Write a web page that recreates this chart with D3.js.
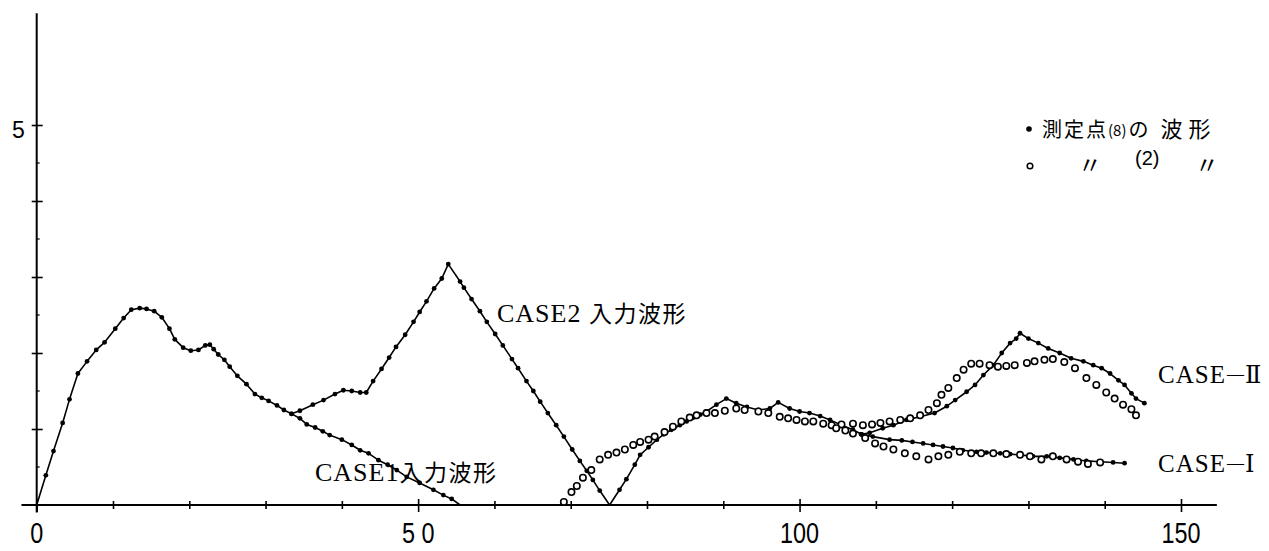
<!DOCTYPE html>
<html>
<head>
<meta charset="utf-8">
<script src="https://cdn.jsdelivr.net/npm/d3@7/dist/d3.min.js"></script>
<style>
  html, body { margin: 0; padding: 0; background: #fff; }
  svg { display: block; }
  .serif { font-family: "Liberation Serif", "DejaVu Serif", "Noto Sans CJK JP", serif; }
  .roman { font-family: "DejaVu Serif", "Noto Sans CJK JP", serif; }
  .cjk { font-family: "Noto Sans CJK JP", sans-serif; }
  .num { font-family: "Liberation Sans", "DejaVu Sans", sans-serif; }
</style>
</head>
<body>
<svg id="chart" width="1269" height="551"></svg>
<script>
// ---- data (time on x, amplitude on y) ----
// CASE1 input waveform, with the measured points at station (8)
const case1Input = [
  [0,0],[1.2,0.39],[2.2,0.71],[3.4,1.08],[4.3,1.39],[5.4,1.73],[6.6,1.89],[7.8,2.04],
  [8.9,2.14],[10.3,2.32],[11.4,2.46],[12.4,2.57],[13.5,2.59],[14.4,2.58],[15.4,2.55],
  [16.4,2.47],[17.4,2.32],[18.1,2.18],[19.2,2.07],[20.2,2.03],[21.2,2.04],[22.1,2.10],
  [22.7,2.11],[23.2,2.05],[23.8,1.98],[24.6,1.91],[25.3,1.82],[26.3,1.70],[27.5,1.59],
  [28.6,1.46],[29.5,1.41],[30.4,1.37],[31.5,1.31],[32.4,1.25],[33.4,1.20],[34.5,1.14],
  [35.4,1.06],[36.5,1.02],[37.5,0.97],[38.4,0.92],[40.0,0.86],[41.3,0.79],[42.4,0.72],
  [43.5,0.68],[44.8,0.59],[46.0,0.53],[47.2,0.46],[48.5,0.37],[50.2,0.29],[52.0,0.20],
  [53.3,0.13],[54.4,0.08],[55.5,0]
];
// CASE2 input waveform where it leaves the CASE1 curve
const case2Input = [
  [33.4,1.20],[34.5,1.24],[36.2,1.32],[37.6,1.38],[39.1,1.46],[40.2,1.51],[41.3,1.50],
  [42.4,1.48],[43.2,1.48],[44.1,1.63],[45.2,1.79],[46.2,1.94],[47.1,2.08],[48.3,2.24],
  [49.4,2.41],[50.2,2.54],[51.1,2.68],[52.1,2.85],[53.1,2.98],[53.95,3.17],[55.5,2.94],
  [56.0,2.86],[57.0,2.71],[58.1,2.55],[59.0,2.41],[60.1,2.25],[61.1,2.10],[62.3,1.92],
  [63.1,1.80],[64.2,1.63],[65.1,1.50],[66.0,1.36],[67.0,1.21],[68.1,1.05],[69.1,0.90],
  [70.2,0.73],[71.2,0.58],[72.1,0.45],[72.9,0.33],[73.8,0.19],[75.1,0]
];
// station (8) response, common part of both cases
const station8Common = [
  [75.1,0],[76.4,0.20],[77.3,0.34],[78.4,0.53],[79.1,0.66],[80.2,0.76],[81.3,0.86],
  [82.2,0.93],[83.2,0.99],[84.3,1.05],[85.2,1.10],[86.1,1.15],[87.0,1.19],[87.8,1.23],
  [89.1,1.32],[90.4,1.40],[91.7,1.34],[93.1,1.29],[94.6,1.25],[96.1,1.27],[97.2,1.35],
  [98.7,1.27],[100.0,1.23],[101.3,1.21],[102.7,1.17],[104.0,1.12],[105.5,1.05],
  [107.0,0.99],[108.1,0.93]
];
const station8CaseII = [
  [108.1,0.93],[109.2,0.95],[110.9,1.01],[112.3,1.05],[114.0,1.12],[115.8,1.16],
  [117.7,1.21],[119.3,1.30],[120.4,1.38],[121.9,1.49],[123.0,1.58],[124.1,1.71],
  [125.4,1.84],[126.5,2.00],[127.6,2.13],[128.4,2.19],[128.9,2.26],[130.0,2.19],
  [131.3,2.13],[132.6,2.06],[134.1,2.00],[135.6,1.93],[137.2,1.89],[138.5,1.84],
  [139.6,1.80],[140.7,1.73],[141.8,1.64],[142.6,1.58],[143.5,1.47],[144.1,1.40],[145.2,1.34]
];
const station8CaseI = [
  [108.1,0.93],[109.6,0.90],[111.8,0.86],[113.4,0.85],[114.8,0.83],[116.2,0.81],
  [117.5,0.79],[118.8,0.77],[120.1,0.75],[121.4,0.72],[123.2,0.70],[124.5,0.69],
  [126.3,0.68],[127.6,0.67],[128.9,0.66],[130.6,0.64],[132.4,0.64],[134.1,0.62],
  [135.9,0.60],[137.6,0.58],[139.4,0.57],[141.1,0.56],[142.6,0.55]
];
// station (2) response (open circles)
const station2Common = [
  [69.1,0.04],[70.1,0.17],[70.8,0.25],[71.6,0.36],[72.7,0.46],[73.8,0.60],[74.9,0.66],
  [76.0,0.69],[77.1,0.73],[78.2,0.79],[79.1,0.83],[80.2,0.86],[81.0,0.90],[82.3,0.96],
  [83.4,1.03],[84.5,1.10],[85.6,1.15],[86.5,1.18],[87.8,1.21],[88.9,1.21],[90.2,1.24],
  [91.7,1.27],[92.8,1.25],[94.6,1.23],[95.9,1.21],[97.4,1.16],[98.5,1.14],[99.6,1.12],
  [100.7,1.10],[101.8,1.10],[103.1,1.07],[104.2,1.05]
];
const station2CaseII = [
  [105.5,1.06],[107.0,1.07],[108.3,1.05],[109.5,1.06],[110.6,1.08],[111.8,1.10],
  [113.2,1.12],[114.5,1.14],[115.8,1.18],[116.9,1.25],[118.0,1.34],[118.6,1.45],
  [119.5,1.54],[120.6,1.67],[121.5,1.78],[122.5,1.86],[123.6,1.86],[124.9,1.84],
  [126.0,1.82],[127.1,1.83],[128.2,1.84],[129.8,1.87],[130.8,1.89],[132.1,1.91],
  [133.2,1.92],[134.7,1.88],[136.1,1.80],[137.6,1.67],[138.9,1.58],[140.2,1.48],
  [141.3,1.40],[142.4,1.32],[143.5,1.26],[144.1,1.18]
];
const station2CaseI = [
  [104.8,1.01],[106.0,0.98],[107.0,0.94],[108.6,0.88],[109.9,0.81],[111.0,0.77],
  [112.3,0.73],[113.8,0.68],[115.3,0.64],[116.9,0.60],[118.2,0.64],[119.5,0.66],
  [121.0,0.70],[122.5,0.68],[123.8,0.68],[125.4,0.68],[127.1,0.67],[128.9,0.66],
  [130.2,0.64],[131.7,0.60],[133.2,0.64],[135.0,0.60],[136.5,0.57],[137.8,0.54],[139.4,0.56]
];

// axes
const xTicks = [0,10,20,30,40,50,60,70,80,90,100,110,120,130,140,150];
const xLabelValues = [0,50,100,150];
const xTickLabels = ["0","5 0","100","150"];
const yTicks = [1,2,3,4,5];
const yMinorTicks = [0.5,1.5,2.5,3.5,4.5];
const yLabelValues = [5];
const yTickLabels = ["5"];
const xExtent = [-2, 154.7];
const yExtent = [-0.1, 6.47];

// ---- drawing ----
const svg = d3.select("#chart");
const x = d3.scaleLinear().domain([0,150]).range([36.7,1181]);
const y = d3.scaleLinear().domain([0,5]).range([505,125]);

// x axis
const gx = svg.append("g").attr("transform", `translate(0,${y(0)})`)
  .call(d3.axisBottom(x).tickValues(xTicks).tickSize(0).tickFormat(""));
gx.select(".domain").remove();
gx.selectAll(".tick line")
  .attr("y1", d => d % 50 === 0 ? -6 : -4)
  .attr("y2", d => d % 50 === 0 ? 7 : 4)
  .attr("stroke", "#000").attr("stroke-width", 1.6);
svg.append("line")
  .attr("x1", x(xExtent[0])).attr("x2", x(xExtent[1]))
  .attr("y1", y(0)).attr("y2", y(0))
  .attr("stroke", "#000").attr("stroke-width", 2);

// y axis
const gy = svg.append("g").attr("transform", `translate(${x(0)},0)`)
  .call(d3.axisLeft(y).tickValues(yTicks).tickSize(0).tickFormat(""));
gy.select(".domain").remove();
gy.selectAll(".tick line")
  .attr("x1", -5).attr("x2", 6)
  .attr("stroke", "#000").attr("stroke-width", 1.6);
svg.append("g").selectAll("line").data(yMinorTicks).join("line")
  .attr("x1", x(0)).attr("x2", x(0) + 3)
  .attr("y1", d => y(d)).attr("y2", d => y(d))
  .attr("stroke", "#000").attr("stroke-width", 1.2);
svg.append("line")
  .attr("x1", x(0)).attr("x2", x(0))
  .attr("y1", y(yExtent[0])).attr("y2", y(yExtent[1]))
  .attr("stroke", "#000").attr("stroke-width", 2);

// tick labels
svg.append("g").selectAll("text").data(xLabelValues).join("text")
  .attr("class", "num")
  .attr("text-anchor", "middle")
  .attr("font-size", 30)
  .attr("transform", d => `translate(${x(d)},543) scale(0.78,1)`)
  .text((d, i) => xTickLabels[i]);
svg.append("g").selectAll("text").data(yLabelValues).join("text")
  .attr("class", "num")
  .attr("text-anchor", "end")
  .attr("font-size", 23)
  .attr("x", x(0) - 12)
  .attr("y", d => y(d) + 13)
  .text((d, i) => yTickLabels[i]);

// curves
const line = d3.line().x(d => x(d[0])).y(d => y(d[1]));
const curves = [case1Input, case2Input, station8Common, station8CaseII, station8CaseI];
svg.append("g").selectAll("path").data(curves).join("path")
  .attr("d", line)
  .attr("fill", "none")
  .attr("stroke", "#000")
  .attr("stroke-width", 1.6)
  .attr("stroke-linejoin", "round");

// filled markers: station (8)
const filled = curves.flat().filter(d => d[1] > 0.001);
svg.append("g").selectAll("circle").data(filled).join("circle")
  .attr("cx", d => x(d[0])).attr("cy", d => y(d[1]))
  .attr("r", 2.4).attr("fill", "#000");

// open markers: station (2)
const open = [...station2Common, ...station2CaseII, ...station2CaseI];
svg.append("g").selectAll("circle").data(open).join("circle")
  .attr("cx", d => x(d[0])).attr("cy", d => y(d[1]))
  .attr("r", 3.2).attr("fill", "#fff")
  .attr("stroke", "#000").attr("stroke-width", 1.6);

// curve labels
function label(xp, yp, latin, kana, size, kanaSize) {
  const t = svg.append("text").attr("x", xp).attr("y", yp);
  t.append("tspan").attr("class", "serif").attr("font-size", size)
    .attr("letter-spacing", 1).text(latin);
  if (kana) t.append("tspan").attr("class", "cjk").attr("font-size", kanaSize)
    .attr("letter-spacing", 1.5).text(kana);
  return t;
}
label(497, 322, "CASE2 ", "入力波形", 26, 23);
label(315, 481, "CASE1", "入力波形", 26, 23);

// case labels at the right end: CASE—Ⅱ / CASE—Ⅰ
function caseLabel(xp, yp, numeral) {
  const t = label(xp, yp, "CASE", null, 25);
  t.append("tspan").attr("class", "serif").attr("font-size", 17)
    .attr("dx", 1).attr("dy", -4).text("—");
  t.append("tspan").attr("class", "roman").attr("font-size", 24)
    .attr("dx", 1).attr("dy", 4).text(numeral);
}
caseLabel(1158, 383, "Ⅱ");
caseLabel(1158, 472, "Ⅰ");

// legend
svg.append("circle").attr("cx", 1029).attr("cy", 129).attr("r", 2.8).attr("fill", "#000");
const l1 = svg.append("text").attr("class", "cjk").attr("x", 1042).attr("y", 137)
  .attr("font-size", 20).attr("letter-spacing", 2);
l1.append("tspan").text("測定点");
l1.append("tspan").attr("font-size", 15).attr("dy", -1).attr("letter-spacing", 0).text("(8)");
l1.append("tspan").attr("dy", 1).attr("dx", 2).text("の");
l1.append("tspan").attr("dx", 10).attr("font-size", 22).attr("letter-spacing", 6).text("波形");

svg.append("circle").attr("cx", 1030).attr("cy", 166).attr("r", 2.8)
  .attr("fill", "#fff").attr("stroke", "#000").attr("stroke-width", 1.5);
svg.append("text").attr("class", "cjk").attr("x", 1078).attr("y", 174)
  .attr("font-size", 24).text("〃");
svg.append("text").attr("class", "num").attr("x", 1135).attr("y", 165)
  .attr("font-size", 20).text("(2)");
svg.append("text").attr("class", "cjk").attr("x", 1195).attr("y", 174)
  .attr("font-size", 24).text("〃");
</script>
</body>
</html>
